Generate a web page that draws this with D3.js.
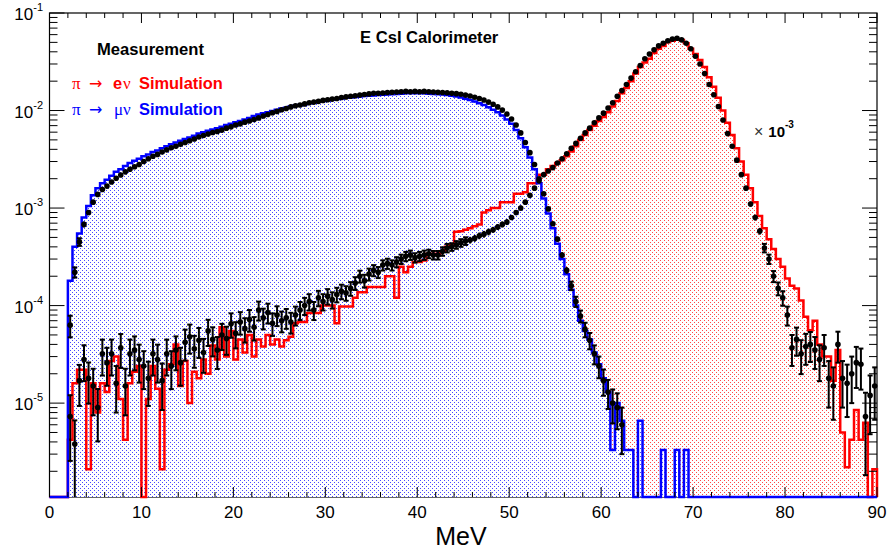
<!DOCTYPE html>
<html><head><meta charset="utf-8">
<script src="https://cdn.jsdelivr.net/npm/d3@7"></script>
<style>body{margin:0;background:#fff} text{font-family:"Liberation Sans",Arial,Helvetica,sans-serif}</style>
</head><body><svg id="c" width="888" height="551" xmlns="http://www.w3.org/2000/svg"></svg>
<script>
// ---- data: 180 bins of 0.5 MeV from 0 to 90 MeV ----
const binWidth = 0.5;
const xTickLabels = [0,10,20,30,40,50,60,70,80,90];
const yTickExps = [-5,-4,-3,-2,-1];
const title = "E CsI Calorimeter";
const xTitle = "MeV";

// pi -> mu nu simulation (blue)
const simMu = [
0,0,0,0,1.8e-4,4e-4,5.5e-4,8e-4,1.05e-3,1.35e-3,
1.6e-3,1.8e-3,1.95e-3,2.15e-3,2.35e-3,2.5e-3,2.7e-3,2.9e-3,3.05e-3,3.2e-3,
3.4e-3,3.55e-3,3.75e-3,3.9e-3,4.1e-3,4.3e-3,4.5e-3,4.7e-3,4.9e-3,5.1e-3,
5.3e-3,5.5e-3,5.8e-3,6e-3,6.2e-3,6.4e-3,6.6e-3,6.8e-3,7.1e-3,7.3e-3,
7.6e-3,7.8e-3,8.1e-3,8.4e-3,8.8e-3,9.1e-3,9.4e-3,9.6e-3,9.9e-3,1.02e-2,
1.05e-2,1.07e-2,1.1e-2,1.12e-2,1.14e-2,1.16e-2,1.19e-2,1.21e-2,1.23e-2,1.25e-2,
1.27e-2,1.29e-2,1.31e-2,1.33e-2,1.35e-2,1.36e-2,1.38e-2,1.39e-2,1.41e-2,1.42e-2,
1.43e-2,1.44e-2,1.45e-2,1.46e-2,1.47e-2,1.48e-2,1.49e-2,1.5e-2,1.5e-2,1.5e-2,
1.5e-2,1.5e-2,1.49e-2,1.48e-2,1.47e-2,1.46e-2,1.44e-2,1.42e-2,1.39e-2,1.36e-2,
1.32e-2,1.28e-2,1.24e-2,1.19e-2,1.14e-2,1.08e-2,1.02e-2,9.6e-3,8.9e-3,8.1e-3,
7.3e-3,6.3e-3,5.2e-3,4.2e-3,3.3e-3,2.5e-3,1.8e-3,1.25e-3,8.8e-4,6.2e-4,
4.3e-4,3e-4,2.1e-4,1.45e-4,1e-4,7e-5,5.5e-5,4.5e-5,3.3e-5,2.5e-5,
1.8e-5,1.3e-5,3.3e-6,1e-5,6.6e-6,3.3e-6,3.3e-6,0,6.6e-6,0,
0,0,0,3.3e-6,0,0,3.3e-6,0,3.3e-6,0,
0,0,0,0,0,0,0,0,0,0,
0,0,0,0,0,0,0,0,0,0,
0,0,0,0,0,0,0,0,0,0,
0,0,0,0,0,0,0,0,0,0];

// pi -> e nu simulation (red)
const simE = [
0,0,0,0,4.2e-6,1.6e-5,2.2e-5,2.2e-5,2.1e-6,1.6e-5,
8e-6,1.6e-5,1.3e-5,2.7e-5,3e-5,1.1e-5,4.2e-6,1.6e-5,2.1e-5,2.4e-5,
0,1.1e-5,2.4e-5,1.4e-5,2.1e-6,2.2e-5,2.5e-5,4e-5,1.5e-5,2.7e-5,
1e-5,2.1e-5,1.8e-5,2.8e-5,2e-5,3.9e-5,2.8e-5,6e-5,3e-5,5.5e-5,
2.8e-5,4.5e-5,3.3e-5,5e-5,3e-5,4.5e-5,3.8e-5,5e-5,4e-5,4.5e-5,
3.8e-5,4.4e-5,4.8e-5,6.6e-5,6.8e-5,6.8e-5,8.4e-5,8.4e-5,8.4e-5,1e-4,
1e-4,1e-4,6.6e-5,9.8e-5,9.8e-5,9.8e-5,1.2e-4,1.37e-4,1.37e-4,1.55e-4,
1.55e-4,1.55e-4,1.55e-4,2e-4,2e-4,1.2e-4,2.5e-4,2.2e-4,2.5e-4,2.8e-4,
2.8e-4,2.9e-4,3.4e-4,3.4e-4,3.4e-4,3.6e-4,4e-4,4.2e-4,5.7e-4,5.8e-4,
6e-4,6.2e-4,6.5e-4,6.8e-4,9e-4,9.5e-4,1e-3,1e-3,1.15e-3,1.15e-3,
1.15e-3,1.4e-3,1.4e-3,1.45e-3,1.8e-3,1.8e-3,2.2e-3,2.2e-3,2.5e-3,2.7e-3,
2.9e-3,3.1e-3,3.4e-3,3.8e-3,4.3e-3,5e-3,5.6e-3,6.3e-3,7e-3,7.8e-3,
8.6e-3,9.6e-3,1.1e-2,1.25e-2,1.5e-2,1.7e-2,2e-2,2.4e-2,2.8e-2,3.1e-2,
3.4e-2,3.9e-2,4.3e-2,4.6e-2,5e-2,5.2e-2,5.35e-2,5.3e-2,4.9e-2,4.3e-2,
3.8e-2,3.3e-2,2.8e-2,2.2e-2,1.75e-2,1.35e-2,1e-2,7.5e-3,5.6e-3,4.1e-3,
3e-3,2.2e-3,1.6e-3,1.15e-3,8.3e-4,6.2e-4,4.8e-4,3.8e-4,3e-4,2.5e-4,
1.9e-4,1.6e-4,1.5e-4,1.13e-4,7.7e-5,5.6e-5,7e-5,4e-5,3e-5,3e-5,
1.7e-5,3.5e-5,5e-6,2.2e-6,4.2e-6,8.5e-6,4.2e-6,6.3e-6,0,2.1e-6];

// measurement, pi -> mu nu selection (black, on blue)
const dataMu = [
0,0,0,0,6.3e-5,2.2e-4,4.5e-4,6.8e-4,9e-4,1.15e-3,
1.38e-3,1.55e-3,1.68e-3,1.85e-3,2.02e-3,2.18e-3,2.35e-3,2.5e-3,2.65e-3,2.8e-3,
3e-3,3.2e-3,3.4e-3,3.55e-3,3.75e-3,3.95e-3,4.15e-3,4.3e-3,4.5e-3,4.7e-3,
4.9e-3,5.1e-3,5.35e-3,5.55e-3,5.75e-3,5.95e-3,6.1e-3,6.3e-3,6.6e-3,6.8e-3,
7.1e-3,7.3e-3,7.6e-3,7.8e-3,8.1e-3,8.4e-3,8.8e-3,9.1e-3,9.5e-3,9.8e-3,
1.02e-2,1.05e-2,1.09e-2,1.12e-2,1.14e-2,1.17e-2,1.2e-2,1.22e-2,1.24e-2,1.27e-2,
1.29e-2,1.31e-2,1.33e-2,1.36e-2,1.38e-2,1.4e-2,1.42e-2,1.44e-2,1.46e-2,1.48e-2,
1.5e-2,1.5e-2,1.51e-2,1.53e-2,1.54e-2,1.55e-2,1.56e-2,1.57e-2,1.56e-2,1.57e-2,
1.56e-2,1.57e-2,1.56e-2,1.55e-2,1.54e-2,1.53e-2,1.52e-2,1.5e-2,1.49e-2,1.47e-2,
1.44e-2,1.41e-2,1.37e-2,1.33e-2,1.28e-2,1.22e-2,1.16e-2,1.09e-2,1.01e-2,9.2e-3,
8.2e-3,7.1e-3,5.9e-3,4.7e-3,3.7e-3,2.8e-3,2e-3,1.4e-3,9.8e-4,6.9e-4,
4.8e-4,3.3e-4,2.3e-4,1.6e-4,1.1e-4,7.8e-5,5.7e-5,4.4e-5,3.2e-5,2.4e-5,
1.7e-5,1.3e-5,1e-5,9e-6,6e-6,0,0,0,0,0,
0,0,0,0,0,0,0,0,0,0,
0,0,0,0,0,0,0,0,0,0,
0,0,0,0,0,0,0,0,0,0,
0,0,0,0,0,0,0,0,0,0,
0,0,0,0,0,0,0,0,0,0];
const dataMuErr = [
0,0,0,0,.25,.12,.09,.07,.06,.05,
.05,.04,.04,.04,.04,.04,.04,.03,.03,.03,
.03,.03,.03,.03,.03,.03,.03,.03,.03,.03,
.03,.03,.03,.03,.03,.03,.03,.03,.03,.03,
.03,.03,.03,.03,.03,.03,.03,.03,.03,.03,
.03,.03,.03,.03,.03,.03,.03,.03,.03,.03,
.03,.03,.03,.03,.03,.03,.03,.03,.03,.03,
.03,.03,.03,.03,.03,.03,.03,.03,.03,.03,
.03,.03,.03,.03,.03,.03,.03,.03,.03,.03,
.03,.03,.03,.03,.03,.03,.03,.03,.03,.03,
.03,.03,.03,.03,.03,.03,.03,.04,.04,.05,
.06,.07,.08,.1,.12,.14,.17,.19,.22,.25,
.3,.33,.38,.4,.5,0,0,0,0,0,
0,0,0,0,0,0,0,0,0,0,
0,0,0,0,0,0,0,0,0,0,
0,0,0,0,0,0,0,0,0,0,
0,0,0,0,0,0,0,0,0,0,
0,0,0,0,0,0,0,0,0,0];

// measurement, pi -> e nu selection (black, on red)
const dataE = [
0,0,0,0,7.3e-6,3.8e-6,1.7e-5,2.8e-5,1.8e-5,1.5e-5,
9e-6,3.2e-5,2.6e-5,3.2e-5,1.6e-5,3.7e-5,1.5e-5,3.2e-5,3.5e-5,2.8e-5,
2.4e-5,1.8e-5,3.2e-5,2.8e-5,1.7e-5,3.2e-5,2.4e-5,3.5e-5,2.6e-5,4.2e-5,
4.8e-5,3.6e-5,4.4e-5,3.3e-5,5.5e-5,4.5e-5,3.5e-5,5e-5,4.6e-5,6.5e-5,
5.2e-5,6.8e-5,5.8e-5,7.2e-5,6e-5,9e-5,7.5e-5,8.5e-5,6.6e-5,8e-5,
7e-5,7.5e-5,6.8e-5,8e-5,9e-5,1e-4,1.1e-4,9e-5,1.2e-4,1.1e-4,
1.25e-4,1.15e-4,1.3e-4,1.4e-4,1.35e-4,1.5e-4,1.7e-4,2e-4,1.8e-4,2.1e-4,
2.3e-4,2.2e-4,2.6e-4,2.7e-4,2.6e-4,2.8e-4,3e-4,3.2e-4,3.3e-4,3.1e-4,
3.2e-4,3.3e-4,3.4e-4,3.3e-4,3.3e-4,3.6e-4,3.9e-4,4e-4,4.2e-4,4.4e-4,
4.6e-4,4.7e-4,4.9e-4,5.2e-4,5.4e-4,5.7e-4,6e-4,6.4e-4,6.8e-4,7.2e-4,
8e-4,9e-4,1e-3,1.15e-3,1.35e-3,1.6e-3,1.9e-3,2.2e-3,2.4e-3,2.6e-3,
2.9e-3,3.2e-3,3.6e-3,4.1e-3,4.6e-3,5.2e-3,5.9e-3,6.6e-3,7.5e-3,8.4e-3,
9.4e-3,1.06e-2,1.2e-2,1.4e-2,1.6e-2,1.85e-2,2.15e-2,2.5e-2,2.9e-2,3.4e-2,
3.8e-2,4.2e-2,4.6e-2,4.9e-2,5.2e-2,5.4e-2,5.5e-2,5.3e-2,4.9e-2,4.3e-2,
3.6e-2,3e-2,2.4e-2,1.85e-2,1.45e-2,1.1e-2,8e-3,5.8e-3,4.3e-3,3.1e-3,
2.2e-3,1.6e-3,1.1e-3,8e-4,5.8e-4,3.9e-4,3e-4,2e-4,1.5e-4,1.2e-4,
8e-5,3.7e-5,4.5e-5,3.2e-5,3.8e-5,4e-5,3.5e-5,2.8e-5,3.7e-5,1.8e-5,
1.5e-5,4e-5,1.8e-5,1.6e-5,2e-5,2.6e-5,2.5e-5,7.3e-6,1.2e-5,1.5e-5];
const dataEErr = [
0,0,0,0,.65,.75,.45,.4,.45,.5,
.55,.4,.42,.4,.5,.38,.5,.4,.38,.42,
.42,.48,.4,.42,.5,.4,.42,.38,.42,.35,
.33,.36,.34,.38,.3,.33,.36,.3,.32,.28,
.3,.26,.28,.25,.27,.22,.24,.23,.26,.23,
.24,.23,.24,.22,.21,.2,.19,.21,.18,.19,
.18,.19,.17,.17,.17,.16,.15,.14,.15,.14,
.13,.13,.12,.12,.12,.12,.11,.11,.11,.11,
.11,.11,.1,.1,.1,.1,.1,.09,.09,.09,
.09,.08,.08,.08,.08,.08,.07,.07,.07,.07,
.06,.06,.06,.05,.05,.05,.04,.04,.04,.04,
.03,.03,.03,.03,.03,.03,.03,.03,.03,.03,
.03,.03,.03,.03,.03,.03,.03,.03,.03,.03,
.03,.03,.03,.03,.03,.03,.03,.03,.03,.03,
.03,.03,.03,.03,.03,.03,.03,.03,.03,.03,
.04,.05,.06,.07,.08,.1,.11,.13,.15,.17,
.22,.35,.32,.38,.35,.34,.36,.4,.35,.5,
.55,.35,.5,.55,.5,.45,.45,.75,.6,.55];

// ---- drawing ----
const W = 888, H = 551;
const L = 49.5, R = 877, T = 13, B = 497;
const yMin = 1.09e-6, yMax = 0.1;
const svg = d3.select("#c");
svg.append("rect").attr("width", W).attr("height", H).attr("fill", "#fff");

const x = d3.scaleLinear().domain([0, 90]).range([L, R]);
const y = d3.scaleLog().domain([yMin, yMax]).range([B, T]);

const defs = svg.append("defs");
function pat(id, col) {
  const p = defs.append("pattern").attr("id", id).attr("patternUnits", "userSpaceOnUse")
    .attr("width", 4).attr("height", 4);
  p.append("rect").attr("x", 0).attr("y", 0).attr("width", 1).attr("height", 1).attr("fill", col).attr("fill-opacity", 0.72);
  p.append("rect").attr("x", 2).attr("y", 2).attr("width", 1).attr("height", 1).attr("fill", col).attr("fill-opacity", 0.72);
}
pat("pBlue", "#0000ff");
pat("pRed", "#ff0000");

const yv = v => (v > yMin ? y(v) : B);
function stepPath(vals) {
  let d = `M${x(0)},${B}`;
  vals.forEach((v, i) => {
    const yy = yv(v);
    d += `L${x(i * binWidth)},${yy}L${x((i + 1) * binWidth)},${yy}`;
  });
  d += `L${x(vals.length * binWidth)},${B}`;
  return d;
}

// frame
svg.append("rect").attr("x", L).attr("y", T).attr("width", R - L).attr("height", B - T)
  .attr("fill", "none").attr("stroke", "#000").attr("stroke-width", 1.2);

const g = svg.append("g");
g.append("path").attr("d", stepPath(simE) + "Z").attr("fill", "url(#pRed)").attr("shape-rendering", "crispEdges");
// white underlay so blue dots replace red dots where both fills overlap
g.append("path").attr("d", stepPath(simMu) + "Z").attr("fill", "#fff").attr("shape-rendering", "crispEdges");
g.append("path").attr("d", stepPath(simMu) + "Z").attr("fill", "url(#pBlue)").attr("shape-rendering", "crispEdges");
g.append("path").attr("d", stepPath(simE)).attr("fill", "none").attr("stroke", "#ff0000").attr("stroke-width", 2.5);
g.append("path").attr("d", stepPath(simMu)).attr("fill", "none").attr("stroke", "#0000ff").attr("stroke-width", 2.5);

function drawData(vals, errs) {
  const gg = svg.append("g");
  vals.forEach((v, i) => {
    if (!(v > 0)) return;
    const cx = x((i + 0.5) * binWidth);
    const e = errs[i] * v;
    const y1 = y(Math.min(v + e, yMax));
    const y2 = (v - e) > yMin ? y(v - e) : B;
    gg.append("line").attr("x1", cx).attr("x2", cx).attr("y1", y1).attr("y2", y2)
      .attr("stroke", "#000").attr("stroke-width", 2);
    if (errs[i] > 0.08) {
      gg.append("line").attr("x1", cx - 2.5).attr("x2", cx + 2.5).attr("y1", y1).attr("y2", y1)
        .attr("stroke", "#000").attr("stroke-width", 2);
      if (y2 < B) gg.append("line").attr("x1", cx - 2.5).attr("x2", cx + 2.5).attr("y1", y2).attr("y2", y2)
        .attr("stroke", "#000").attr("stroke-width", 2);
    }
    gg.append("circle").attr("cx", cx).attr("cy", yv(v)).attr("r", 2.8).attr("fill", "#000");
  });
}
drawData(dataE, dataEErr);
drawData(dataMu, dataMuErr);

// ticks
const ax = svg.append("g").attr("stroke", "#000").attr("stroke-width", 1);
d3.range(0, 91, 2).forEach(t => {
  const len = t % 10 === 0 ? 10 : 5;
  const px = x(t);
  ax.append("line").attr("x1", px).attr("x2", px).attr("y1", B).attr("y2", B - len);
  ax.append("line").attr("x1", px).attr("x2", px).attr("y1", T).attr("y2", T + len);
});
yTickExps.forEach(ex => {
  for (let m = 1; m <= 9; m++) {
    const v = m * Math.pow(10, ex - 1);
    if (v < yMin || v > yMax * 1.0001) continue;
    const py = y(v);
    const len = m === 1 ? 15 : 8;
    ax.append("line").attr("x1", L).attr("x2", L + len).attr("y1", py).attr("y2", py);
    ax.append("line").attr("x1", R).attr("x2", R - len).attr("y1", py).attr("y2", py);
  }
});
{
  const py = y(yMax);
  ax.append("line").attr("x1", L).attr("x2", L + 15).attr("y1", py).attr("y2", py);
}

// tick labels
const tl = svg.append("g").attr("fill", "#000");
xTickLabels.forEach(t => {
  tl.append("text").attr("x", x(t)).attr("y", 518).attr("text-anchor", "middle")
    .attr("font-size", 17).text(t);
});
yTickExps.forEach(ex => {
  const py = y(Math.pow(10, ex));
  const t = tl.append("text").attr("x", 43).attr("y", py + 7).attr("text-anchor", "end").attr("font-size", 17);
  t.append("tspan").text("10");
  t.append("tspan").attr("dy", -9).attr("font-size", 11).text(ex);
});

// axis title and chart title
svg.append("text").attr("x", 461).attr("y", 545).attr("text-anchor", "middle")
  .attr("font-size", 25).text(xTitle);
svg.append("text").attr("x", 360).attr("y", 43).attr("font-size", 16.6).attr("font-weight", "bold").text(title);

// legend
const lg = svg.append("g");
lg.append("text").attr("x", 97).attr("y", 55).attr("font-size", 16.6).attr("font-weight", "bold").text("Measurement");
function legLine(yb, col, parts) {
  parts.forEach(p => {
    const t = lg.append("text").attr("x", p[0]).attr("y", yb).attr("font-size", p[3] || 16.4)
      .attr("font-weight", p[2] ? "bold" : "normal").attr("fill", col).text(p[1]);
    if (p[4]) t.style("font-family", p[4]);
  });
}
const serif = '"Liberation Serif","DejaVu Serif",serif';
const arrowFont = '"DejaVu Sans",sans-serif';
legLine(89, "#ff0000", [[72, "π", false, 17, serif], [89, "→", false, 16, arrowFont], [113, "e", true], [123, "ν", false, 17, serif], [139, "Simulation", true]]);
legLine(115, "#0000ff", [[72, "π", false, 17, serif], [89, "→", false, 16, arrowFont], [114, "μν", false, 17, serif], [139, "Simulation", true]]);

// multiplier label
const mt = svg.append("text").attr("x", 754).attr("y", 137).attr("font-size", 16);
mt.append("tspan").attr("fill", "#333").text("×");
mt.append("tspan").attr("dx", 5).attr("font-weight", "bold").attr("font-size", 15).text("10");
mt.append("tspan").attr("dy", -9).attr("font-weight", "bold").attr("font-size", 10).text("-3");
</script>
</body></html>
